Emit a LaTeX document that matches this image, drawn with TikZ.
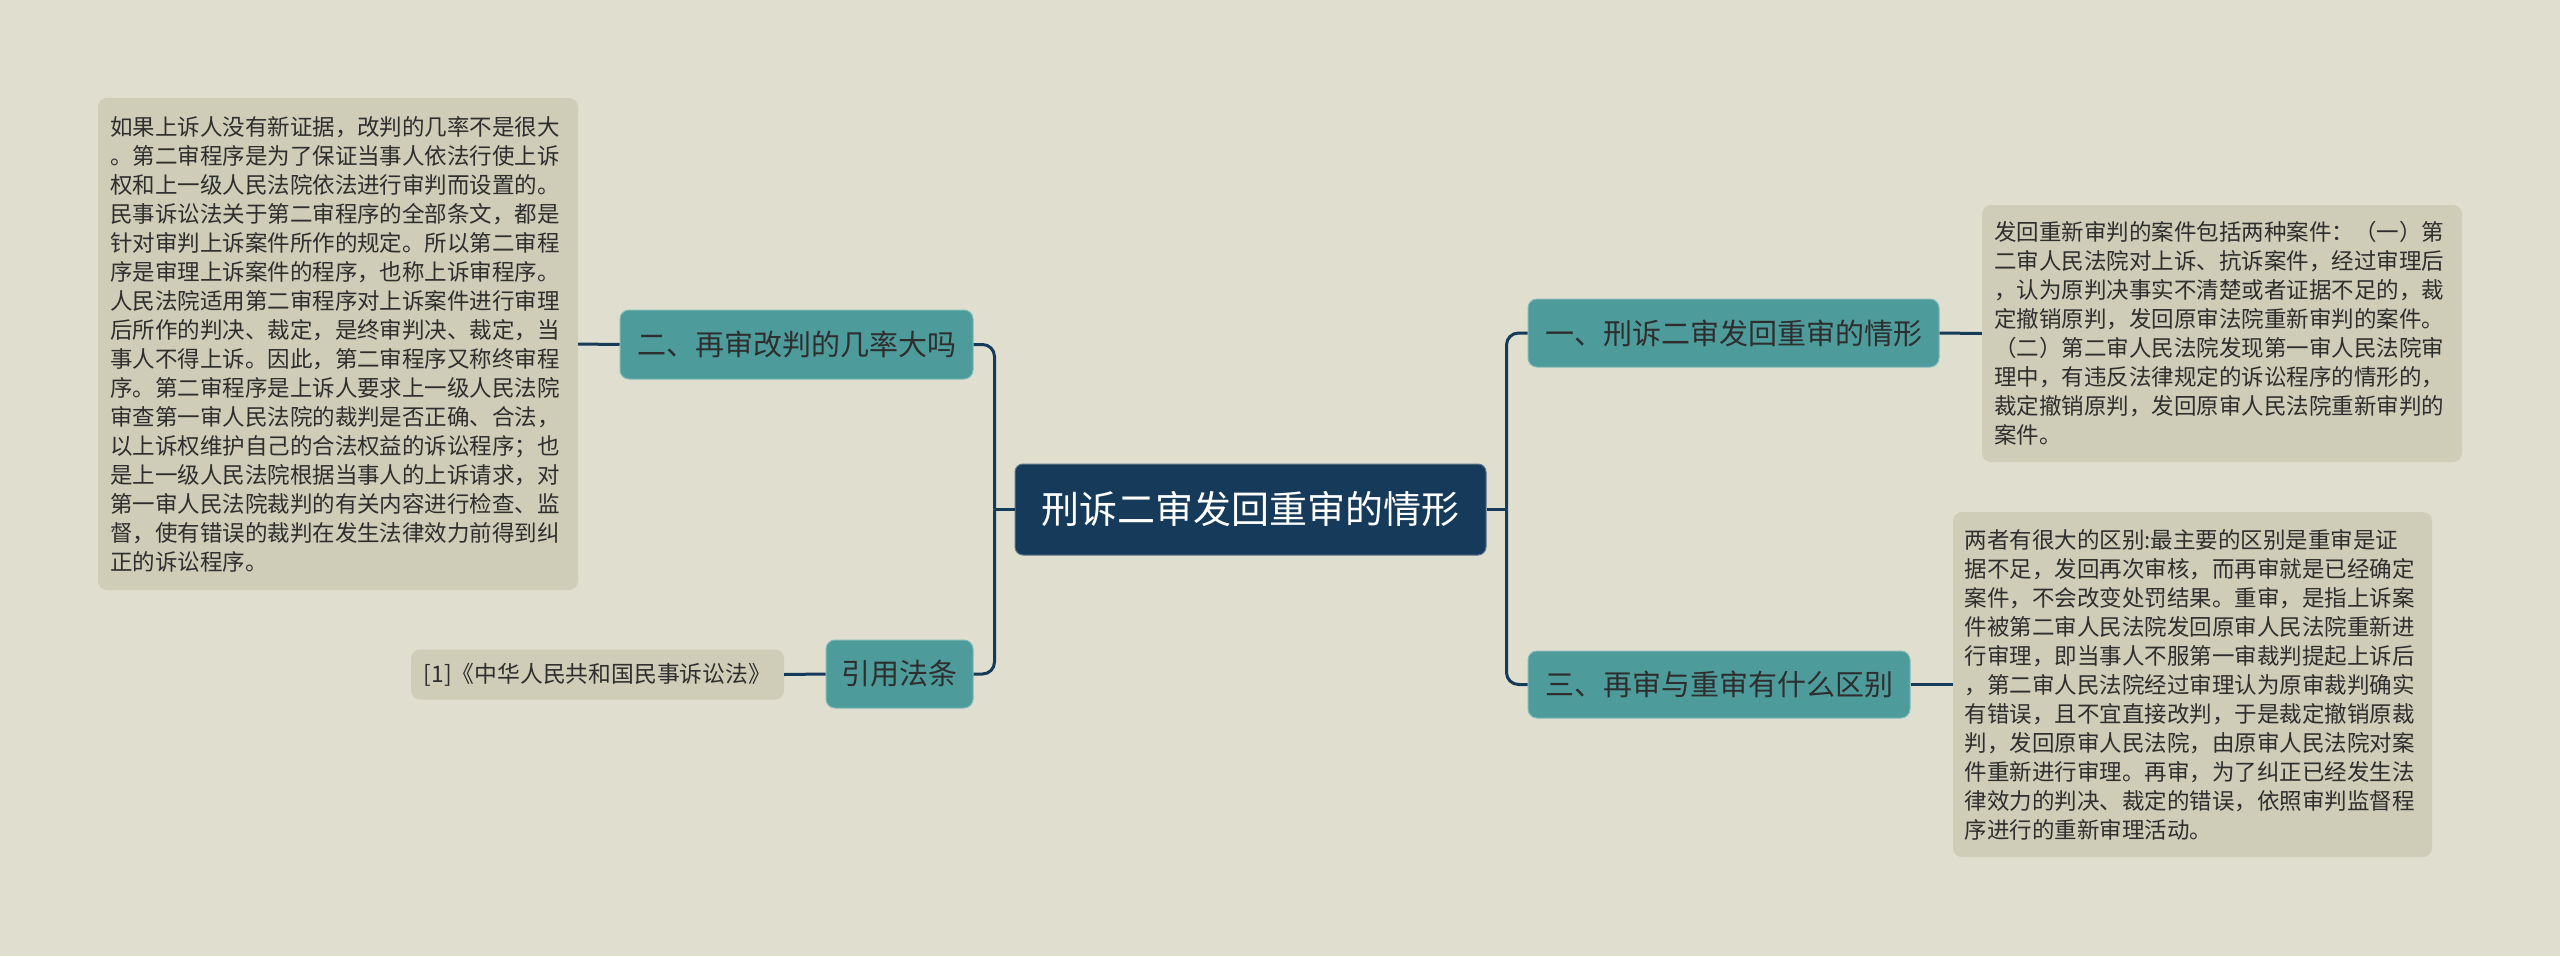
\documentclass[tikz,border=0pt]{standalone}
\usepackage{fontspec}
\setmainfont{Noto Sans CJK SC}
\usetikzlibrary{calc}
\definecolor{bgc}{HTML}{E0DFCF}
\definecolor{navy}{HTML}{163A5A}
\definecolor{teal}{HTML}{4E9B9B}
\definecolor{boxc}{HTML}{CFCDB8}
\definecolor{txt}{HTML}{2E2E2E}
\tikzset{
  rootbox/.style={fill=navy, draw=navy!70!white, line width=1pt, rounded corners=8pt, text=white, inner sep=0pt, align=center, font=\fontsize{38pt}{44pt}\selectfont},
  branchbox/.style={fill=teal, draw=teal!70!white, line width=1pt, rounded corners=9pt, text=txt, inner sep=0pt, align=center, font=\fontsize{29pt}{34pt}\selectfont},
  notebox/.style={fill=boxc, rounded corners=9pt, text=txt, inner sep=0pt, align=left, font=\fontsize{22.5pt}{29pt}\selectfont},
  link/.style={draw=navy, line width=3pt},
}
\begin{document}
\begin{tikzpicture}[x=1pt,y=-1pt]
\useasboundingbox (0,0) rectangle (2560,956);
\fill[bgc] (0,0) rectangle (2560,956);

% root
\node[rootbox, minimum width=471pt, minimum height=91pt] (c) at (1250.5,509.5) {刑诉二审发回重审的情形};

% left branches
\node[branchbox, minimum width=353pt, minimum height=69pt] (b2) at (796.5,344.5) {二、再审改判的几率大吗};
\node[branchbox, minimum width=147pt, minimum height=68pt] (br) at (899.5,674) {引用法条};

% right branches
\node[branchbox, minimum width=411pt, minimum height=68pt] (b1) at (1733.5,333) {一、刑诉二审发回重审的情形};
\node[branchbox, minimum width=382pt, minimum height=67pt] (b3) at (1719,684.5) {三、再审与重审有什么区别};

% notes
\node[notebox, minimum width=480pt, minimum height=492pt, text width=456pt] (t2) at (338,344) {如果上诉人没有新证据，改判的几率不是很大\\。第二审程序是为了保证当事人依法行使上诉\\权和上一级人民法院依法进行审判而设置的。\\民事诉讼法关于第二审程序的全部条文，都是\\针对审判上诉案件所作的规定。所以第二审程\\序是审理上诉案件的程序，也称上诉审程序。\\人民法院适用第二审程序对上诉案件进行审理\\后所作的判决、裁定，是终审判决、裁定，当\\事人不得上诉。因此，第二审程序又称终审程\\序。第二审程序是上诉人要求上一级人民法院\\审查第一审人民法院的裁判是否正确、合法，\\以上诉权维护自己的合法权益的诉讼程序；也\\是上一级人民法院根据当事人的上诉请求，对\\第一审人民法院裁判的有关内容进行检查、监\\督，使有错误的裁判在发生法律效力前得到纠\\正的诉讼程序。};

\node[notebox, minimum width=373pt, minimum height=50pt, align=center, font=\fontsize{22.8pt}{26pt}\selectfont] (ref) at (597.5,674.5) {[1]《中华人民共和国民事诉讼法》};

\node[notebox, minimum width=480pt, minimum height=257pt, text width=456pt] (t1) at (2222,333.5) {发回重新审判的案件包括两种案件：（一）第\\二审人民法院对上诉、抗诉案件，经过审理后\\，认为原判决事实不清楚或者证据不足的，裁\\定撤销原判，发回原审法院重新审判的案件。\\（二）第二审人民法院发现第一审人民法院审\\理中，有违反法律规定的诉讼程序的情形的，\\裁定撤销原判，发回原审人民法院重新审判的\\案件。};

\node[notebox, minimum width=479pt, minimum height=345pt, text width=456pt] (t3) at (2192.5,684.5) {两者有很大的区别:最主要的区别是重审是证\\据不足，发回再次审核，而再审就是已经确定\\案件，不会改变处罚结果。重审，是指上诉案\\件被第二审人民法院发回原审人民法院重新进\\行审理，即当事人不服第一审裁判提起上诉后\\，第二审人民法院经过审理认为原审裁判确实\\有错误，且不宜直接改判，于是裁定撤销原裁\\判，发回原审人民法院，由原审人民法院对案\\件重新进行审理。再审，为了纠正已经发生法\\律效力的判决、裁定的错误，依照审判监督程\\序进行的重新审理活动。};

% junctions
\coordinate (jl) at ($(c.west)+(-20pt,0)$);
\coordinate (jr) at ($(c.east)+(20pt,0)$);

% connectors
\draw[link] (c.west) -- (jl);
\draw[link, rounded corners=12pt] (jl) |- (b2.east);
\draw[link, rounded corners=12pt] (jl) |- (br.east);
\draw[link] (c.east) -- (jr);
\draw[link, rounded corners=12pt] (jr) |- (b1.west);
\draw[link, rounded corners=12pt] (jr) |- (b3.west);

\draw[link] (b2.west) -- (t2.east);
\draw[link] (br.west) -- (ref.east);
\draw[link] (b1.east) -- (t1.west);
\draw[link] (b3.east) -- (t3.west);
\end{tikzpicture}
\end{document}
